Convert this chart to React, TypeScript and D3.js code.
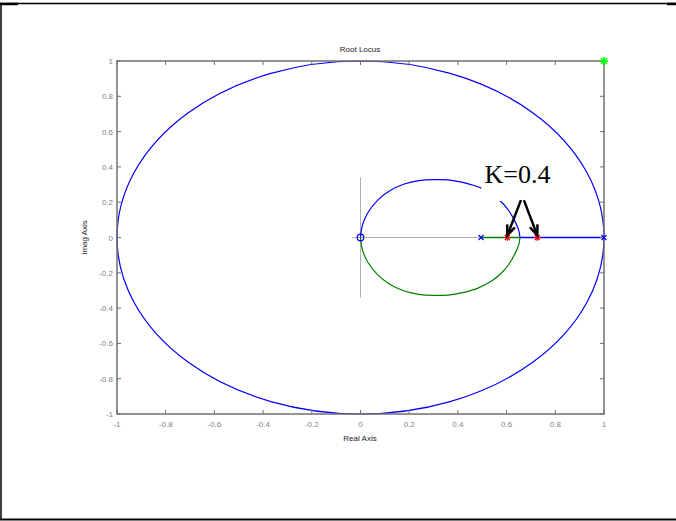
import React from "react";
import * as d3 from "d3";

const W = 676;
const H = 521;

const xTicks = [-1, -0.8, -0.6, -0.4, -0.2, 0, 0.2, 0.4, 0.6, 0.8, 1];
const yTicks = [-1, -0.8, -0.6, -0.4, -0.2, 0, 0.2, 0.4, 0.6, 0.8, 1];

// upper branch of the inner loop (blue), from zero at origin to break-in point
const upperLoopA: [number, number][] = [
  [0, 0], [0.008, 0.07], [0.03, 0.14], [0.07, 0.21], [0.12, 0.265], [0.18, 0.303],
  [0.24, 0.322], [0.3, 0.328], [0.36, 0.326], [0.42, 0.312], [0.47, 0.293], [0.503, 0.277],
];
const upperLoopB: [number, number][] = [
  [0.503, 0.277], [0.54, 0.245], [0.58, 0.2], [0.61, 0.15], [0.635, 0.09], [0.65, 0.04], [0.655, 0],
];
// lower branch (green)
const lowerLoop: [number, number][] = [
  [0, 0], [0.008, -0.07], [0.03, -0.14], [0.07, -0.21], [0.12, -0.265], [0.18, -0.303],
  [0.24, -0.322], [0.3, -0.328], [0.36, -0.326], [0.42, -0.312], [0.48, -0.288],
  [0.54, -0.245], [0.58, -0.2], [0.61, -0.15], [0.635, -0.09], [0.65, -0.04], [0.655, 0],
];
// real-axis segments
const greenReal: [number, number][] = [[0.495, 0], [0.655, 0]];
const blueReal: [number, number][] = [[0.655, 0], [1, 0]];
// gray axis lines
const hAxisLine: [number, number][] = [[-0.035, 0], [1, 0]];
const vAxisLine: [number, number][] = [[0, -0.34], [0, 0.34]];

const poles = [0.495, 1];
const zeros = [0];
const kPoints = [0.603, 0.726];
const startMark: [number, number] = [1, 1];
const annotation = { text: "K=0.4", x: 0.509, y: 0.309 };
const arrows: { from: [number, number]; to: [number, number] }[] = [
  { from: [0.659, 0.212], to: [0.603, 0.012] },
  { from: [0.671, 0.212], to: [0.726, 0.012] },
];

export default function App() {
  const x = d3.scaleLinear().domain([-1, 1]).range([117, 604]);
  const y = d3.scaleLinear().domain([-1, 1]).range([414, 61]);
  const line = d3
    .line<[number, number]>()
    .x((d) => x(d[0]))
    .y((d) => y(d[1]))
    .curve(d3.curveCatmullRom);
  const straight = d3
    .line<[number, number]>()
    .x((d) => x(d[0]))
    .y((d) => Math.floor(y(d[1])) + 0.5);
  const axisGray = "#6f6f6f";
  const tickLen = 4;
  const fmt = (v: number) => (v === 0 ? "0" : String(v));

  const arrowHead = (a: { from: [number, number]; to: [number, number] }) => {
    const x1 = x(a.from[0]), y1 = y(a.from[1]), x2 = x(a.to[0]), y2 = y(a.to[1]);
    const ang = Math.atan2(y2 - y1, x2 - x1);
    const L = 11, s = 0.38;
    const p1 = [x2 - L * Math.cos(ang - s), y2 - L * Math.sin(ang - s)];
    const p2 = [x2 - L * Math.cos(ang + s), y2 - L * Math.sin(ang + s)];
    return `M${p1[0]},${p1[1]}L${x2},${y2}L${p2[0]},${p2[1]}`;
  };

  return (
    <svg width={W} height={H} style={{ position: "absolute", left: 0, top: 0, background: "#fff" }}>
      {/* outer frame */}
      <line x1={0} x2={W} y1={3.5} y2={3.5} stroke="#000" strokeWidth={1.5} />
      <line x1={0} x2={18} y1={4} y2={4} stroke="#000" strokeWidth={2.5} />
      <line x1={667} x2={W} y1={4} y2={4} stroke="#000" strokeWidth={2.5} />
      <line x1={1} x2={1} y1={4} y2={520} stroke="#000" strokeWidth={1.5} />
      <line x1={0} x2={W} y1={519.5} y2={519.5} stroke="#000" strokeWidth={2} />

      {/* title & labels */}
      <text x={360} y={52} fontFamily="Liberation Sans, Arial, sans-serif" fontSize={8} textAnchor="middle" fill="#222">
        Root Locus
      </text>
      <text x={360} y={441} fontFamily="Liberation Sans, Arial, sans-serif" fontSize={8} textAnchor="middle" fill="#222">
        Real Axis
      </text>
      <text
        transform={`translate(87,${y(0)}) rotate(-90)`}
        fontFamily="Liberation Sans, Arial, sans-serif"
        fontSize={8}
        textAnchor="middle"
        fill="#222"
      >
        Imag Axis
      </text>

      {/* gray axis lines through origin */}
      <path d={straight(hAxisLine) || ""} stroke="#b0b0b0" strokeWidth={1} fill="none" />
      <path d={line(vAxisLine) || ""} stroke="#b0b0b0" strokeWidth={1} fill="none" />

      {/* unit circle */}
      <ellipse
        cx={x(0)}
        cy={y(0)}
        rx={x(1) - x(0)}
        ry={y(0) - y(1)}
        fill="none"
        stroke="#0000ff"
        strokeWidth={1.2}
      />

      {/* loci */}
      <path d={line(lowerLoop) || ""} stroke="#008000" strokeWidth={1.2} fill="none" />
      <path d={line(upperLoopA) || ""} stroke="#0000ff" strokeWidth={1.2} fill="none" />
      <path d={line(upperLoopB) || ""} stroke="#0000ff" strokeWidth={1.2} fill="none" />
      <path d={straight(greenReal) || ""} stroke="#008000" strokeWidth={1.3} fill="none" />
      <path d={straight(blueReal) || ""} stroke="#0000ff" strokeWidth={1.3} fill="none" />

      {/* axes box */}
      <rect x={117} y={61} width={487} height={353} fill="none" stroke={axisGray} strokeWidth={1.5} />
      {xTicks.map((t) => (
        <g key={"xt" + t}>
          <line x1={x(t)} x2={x(t)} y1={414} y2={414 - tickLen} stroke={axisGray} />
          <line x1={x(t)} x2={x(t)} y1={61} y2={61 + tickLen} stroke={axisGray} />
          <text
            x={x(t)}
            y={427}
            fontFamily="Liberation Sans, Arial, sans-serif"
            fontSize={8}
            textAnchor="middle"
            fill="#808080"
          >
            {fmt(t)}
          </text>
        </g>
      ))}
      {yTicks.map((t) => (
        <g key={"yt" + t}>
          <line x1={117} x2={117 + tickLen} y1={y(t)} y2={y(t)} stroke={axisGray} />
          <line x1={604} x2={604 - tickLen} y1={y(t)} y2={y(t)} stroke={axisGray} />
          <text
            x={113}
            y={y(t) + 3}
            fontFamily="Liberation Sans, Arial, sans-serif"
            fontSize={8}
            textAnchor="end"
            fill="#808080"
          >
            {fmt(t)}
          </text>
        </g>
      ))}

      {/* poles (x) */}
      {poles.map((p) => (
        <path
          key={"p" + p}
          d={`M${x(p) - 2.5},${y(0) - 2.5}L${x(p) + 2.5},${y(0) + 2.5}M${x(p) - 2.5},${y(0) + 2.5}L${x(p) + 2.5},${y(0) - 2.5}`}
          stroke="#0000ff"
          strokeWidth={1.2}
        />
      ))}
      {/* zeros (o) */}
      {zeros.map((z) => (
        <circle key={"z" + z} cx={x(z)} cy={y(0)} r={3.3} fill="none" stroke="#0000ff" strokeWidth={1.2} />
      ))}

      {/* annotation text with white background */}
      <rect x={x(annotation.x) - 3} y={158} width={72} height={43} fill="#fff" />
      <text
        x={x(annotation.x)}
        y={y(annotation.y)}
        fontFamily="Liberation Serif, Times New Roman, serif"
        fontSize={26}
        fill="#000"
      >
        {annotation.text}
      </text>

      {/* K markers */}
      {kPoints.map((k) => (
        <path
          key={"k" + k}
          d={`M${x(k) - 3.5},${y(0)}L${x(k) + 3.5},${y(0)}M${x(k)},${y(0) - 3.5}L${x(k)},${y(0) + 3.5}M${x(k) - 2.5},${y(0) - 2.5}L${x(k) + 2.5},${y(0) + 2.5}M${x(k) - 2.5},${y(0) + 2.5}L${x(k) + 2.5},${y(0) - 2.5}`}
          stroke="#ff0000"
          strokeWidth={1.2}
        />
      ))}

      {/* arrows */}
      {arrows.map((a, i) => (
        <g key={"a" + i}>
          <line
            x1={x(a.from[0])}
            y1={y(a.from[1])}
            x2={x(a.to[0])}
            y2={y(a.to[1])}
            stroke="#000"
            strokeWidth={2.5}
          />
          <path d={arrowHead(a)} stroke="#000" strokeWidth={2.5} fill="none" />
        </g>
      ))}

      {/* start marker (green) */}
      <path
        d={`M${x(startMark[0]) - 4},${y(startMark[1])}L${x(startMark[0]) + 4},${y(startMark[1])}M${x(startMark[0])},${y(startMark[1]) - 4}L${x(startMark[0])},${y(startMark[1]) + 4}M${x(startMark[0]) - 3},${y(startMark[1]) - 3}L${x(startMark[0]) + 3},${y(startMark[1]) + 3}M${x(startMark[0]) - 3},${y(startMark[1]) + 3}L${x(startMark[0]) + 3},${y(startMark[1]) - 3}`}
        stroke="#00ff00"
        strokeWidth={1.5}
      />
    </svg>
  );
}
